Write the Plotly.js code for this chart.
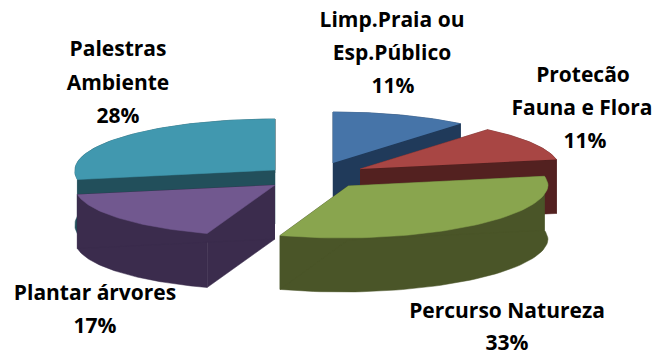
<!DOCTYPE html>
<html>
<head>
<meta charset="utf-8">
<script src="https://cdn.plot.ly/plotly-3.0.1.min.js"></script>
<style>html,body{margin:0;padding:0;background:#fff}#chart{width:655px;height:356px}</style>
</head>
<body>
<div id="chart"></div>
<script>
// Activity shares, clockwise from twelve o'clock
const categories = ['Limp.Praia ou Esp.Público', 'Protecão Fauna e Flora', 'Percurso Natureza', 'Plantar árvores', 'Palestras Ambiente'];
const shares = [11, 11, 33, 17, 28];

// Label rows for each slice, anchored by their centres
const labelRows = [
  ['Limp.Praia ou', 'Esp.Público', '11%'],
  ['Protecão', 'Fauna e Flora', '11%'],
  ['Percurso Natureza', '33%'],
  ['Plantar árvores', '17%'],
  ['Palestras', 'Ambiente', '28%']
];
const labelX = [[392, 392, 393], [583, 582, 585], [507, 507], [95, 95], [118, 118, 118]];
const labelY = [[22, 55, 88], [77, 110, 143], [313, 345], [295, 328], [51, 85, 118]];

// Exploded slice apexes on the page, and the pie's projected radii and thickness
const apexX = [333, 360, 348, 275, 275];
const apexY = [163, 169, 186, 185, 170];
const radiusX = 200, radiusY = [51, 51, 52, 51, 51], thickness = 54;
// The near half of the pie leans left under the chart's perspective
const nearLean = 0.125;

const topColors = ['#4674a8', '#a84644', '#89a54e', '#71588f', '#4198af'];
const sideColors = ['#203a5a', '#532120', '#4a5528', '#3b2c4d', '#224f5b'];

// Paint order: the back slices first
const paintOrder = [0, 1, 4, 2, 3];

function wedge(i) {
  const before = shares.slice(0, i).reduce((a, b) => a + b, 0);
  const total = shares.reduce((a, b) => a + b, 0);
  const a0 = before / total * 2 * Math.PI;
  const a1 = (before + shares[i]) / total * 2 * Math.PI;
  const steps = 60;
  const rim = [];
  for (let k = 0; k <= steps; k++) {
    const a = a0 + (a1 - a0) * k / steps;
    const dy = -radiusY[i] * Math.cos(a);
    const lean = dy > 0 ? -nearLean * dy : 0;
    rim.push([apexX[i] + radiusX * Math.sin(a) + lean, apexY[i] + dy]);
  }
  return rim;
}

function poly(points, color, name) {
  return {
    type: 'scatter', mode: 'lines', fill: 'toself', fillcolor: color,
    x: points.map(p => p[0]), y: points.map(p => p[1]),
    line: {color: color, width: 0.5}, hoverinfo: 'skip', name: name, showlegend: false
  };
}

const traces = [];
paintOrder.forEach(i => {
  const rim = wedge(i);
  const apex = [apexX[i], apexY[i]];
  const first = rim[0], last = rim[rim.length - 1];
  const down = p => [p[0], p[1] + thickness];
  // outer wall, then the two cut faces, then the top
  traces.push(poly(rim.concat(rim.slice().reverse().map(down)), sideColors[i], categories[i]));
  traces.push(poly([apex, first, down(first), down(apex)], sideColors[i], categories[i]));
  traces.push(poly([apex, last, down(last), down(apex)], sideColors[i], categories[i]));
  traces.push(poly([apex].concat(rim), topColors[i], categories[i]));
});

// Labels as one text trace, one point per row
traces.push({
  type: 'scatter', mode: 'text', hoverinfo: 'skip', showlegend: false, cliponaxis: false,
  x: labelX.flat(), y: labelY.flat(), text: labelRows.flat(),
  textposition: 'middle center',
  textfont: {family: '"Open Sans", sans-serif', size: 21, color: '#000', weight: 700}
});

const layout = {
  width: 655, height: 356,
  margin: {l: 0, r: 0, t: 0, b: 0},
  paper_bgcolor: '#fff', plot_bgcolor: '#fff',
  showlegend: false,
  xaxis: {visible: false, range: [0, 655], fixedrange: true},
  yaxis: {visible: false, range: [356, 0], fixedrange: true}
};
Plotly.newPlot('chart', traces, layout, {displayModeBar: false, staticPlot: true});
</script>
</body>
</html>
